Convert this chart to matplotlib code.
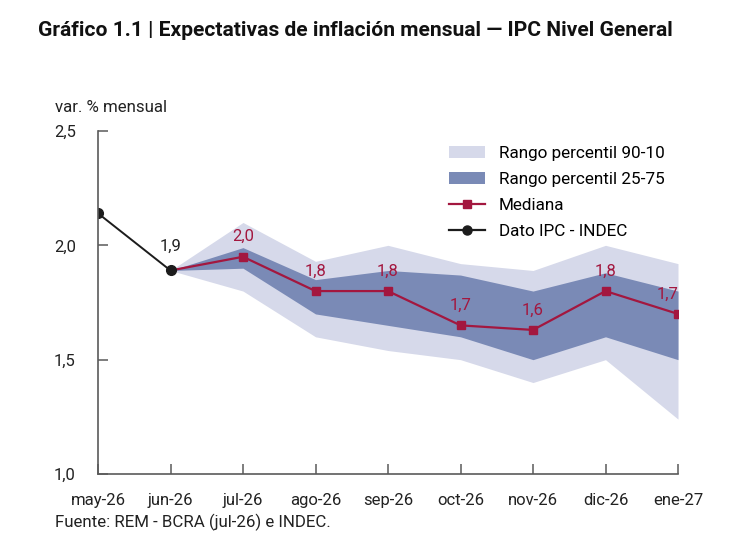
import numpy as np
import matplotlib
matplotlib.use('Agg')
import matplotlib.pyplot as plt
from matplotlib.patches import Patch
from matplotlib.lines import Line2D

plt.rcParams['font.family'] = ['Roboto', 'DejaVu Sans']

months = ['may-26', 'jun-26', 'jul-26', 'ago-26', 'sep-26', 'oct-26', 'nov-26', 'dic-26', 'ene-27']

# dato observado (INDEC)
ipc = [2.14, 1.89]

# expectativas REM, desde jun-26
mediana = [1.89, 1.95, 1.80, 1.80, 1.65, 1.63, 1.80, 1.70]
p90 = [1.89, 2.10, 1.93, 2.00, 1.92, 1.89, 2.00, 1.92]
p10 = [1.89, 1.80, 1.60, 1.54, 1.50, 1.40, 1.50, 1.24]
p75 = [1.89, 1.99, 1.85, 1.89, 1.87, 1.80, 1.88, 1.80]
p25 = [1.89, 1.90, 1.70, 1.65, 1.60, 1.50, 1.60, 1.50]

mediana_labels = ['2,0', '1,8', '1,8', '1,7', '1,6', '1,8', '1,7']
ipc_label = '1,9'

c_light = '#d6d9ea'
c_dark = '#7a8ab6'
c_med = '#a3173f'
c_ipc = '#1c1c1c'
c_axis = '#5a5a5a'

x_all = np.arange(len(months))
x_rem = x_all[1:]

fig = plt.figure(figsize=(7.3, 5.54), dpi=100)
ax = fig.add_axes([98 / 730, 1 - 474 / 554, 580 / 730, 343 / 554])

ax.fill_between(x_rem, p10, p90, color=c_light, lw=0, zorder=1)
ax.fill_between(x_rem, p25, p75, color=c_dark, lw=0, zorder=2)
ax.plot(x_rem, mediana, color=c_med, lw=1.6, marker='s', ms=5.5,
        markevery=list(range(1, len(mediana))), zorder=3)
ax.plot(x_all[:2], ipc, color=c_ipc, lw=1.4, marker='o', ms=7, zorder=4)

for i, lab in enumerate(mediana_labels):
    xi = x_rem[i + 1]
    yi = mediana[i + 1]
    ha = 'right' if i == len(mediana_labels) - 1 else 'center'
    ax.annotate(lab, (xi, yi), xytext=(0, 9), textcoords='offset points',
                ha=ha, va='bottom', color=c_med, fontsize=12)
ax.annotate(ipc_label, (x_all[1], ipc[1]), xytext=(0, 12), textcoords='offset points',
            ha='center', va='bottom', color='#222222', fontsize=12)

ax.set_xlim(0, len(months) - 1)
ax.set_ylim(1.0, 2.5)
ax.set_xticks(x_all)
ax.set_xticklabels(months)
ax.set_yticks([1.0, 1.5, 2.0, 2.5])
ax.set_yticklabels(['1,0', '1,5', '2,0', '2,5'])
for s in ['top', 'right']:
    ax.spines[s].set_visible(False)
for s in ['left', 'bottom']:
    ax.spines[s].set_color(c_axis)
    ax.spines[s].set_linewidth(1.2)
    ax.spines[s].set_zorder(5)
ax.tick_params(axis='both', direction='in', length=7, width=1.1, color=c_axis,
               labelsize=12, labelcolor='#222222')
ax.tick_params(axis='x', pad=14)
ax.tick_params(axis='y', pad=16)

handles = [Patch(facecolor=c_light, edgecolor='none'),
           Patch(facecolor=c_dark, edgecolor='none'),
           Line2D([], [], color=c_med, lw=1.6, marker='s', ms=5.5),
           Line2D([], [], color=c_ipc, lw=1.6, marker='o', ms=6.5)]
labels = ['Rango percentil 90-10', 'Rango percentil 25-75', 'Mediana', 'Dato IPC - INDEC']
fig.legend(handles, labels, loc='upper left', bbox_to_anchor=(449 / 730, 1 - 146 / 554),
           frameon=False, fontsize=12.3, handlelength=2.1, handleheight=0.7,
           handletextpad=0.8, labelspacing=0.65, borderpad=0, borderaxespad=0)

fig.text(38 / 730, 1 - 30 / 554, 'Gráfico 1.1 | Expectativas de inflación mensual — IPC Nivel General',
         fontsize=15.1, fontweight='bold', va='center', ha='left', color='#111111')
fig.text(55 / 730, 1 - 107 / 554, 'var. % mensual', fontsize=12.2, va='center', ha='left', color='#222222')
fig.text(55 / 730, 1 - 522 / 554, 'Fuente: REM - BCRA (jul-26) e INDEC.', fontsize=12.2,
         va='center', ha='left', color='#222222')

fig.savefig('out.png', dpi=100)
